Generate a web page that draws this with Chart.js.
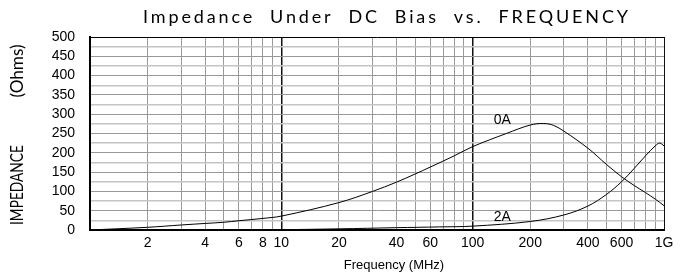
<!DOCTYPE html>
<html>
<head>
<meta charset="utf-8">
<script src="https://cdn.jsdelivr.net/npm/chart.js@4.4.1/dist/chart.umd.min.js"></script>
<style>
  body { margin: 0; background: #fff; }
  canvas { display: block; }
</style>
</head>
<body>
<canvas id="myChart" width="691" height="276"></canvas>
<script>
// values
const freq0A = [1, 2, 3, 4, 5, 6, 8, 10, 20, 30, 40, 50, 60, 80, 100, 150, 200, 235, 265, 300, 400, 500, 600, 700, 800, 900, 1000];
const z0A    = [0, 7, 13, 17, 20, 24, 30, 36, 71, 100, 124, 145, 163, 192, 216, 250, 272, 276, 271, 256, 212, 170, 138, 115, 97, 80, 63];
const freq2A = [1, 10, 20, 40, 67, 100, 200, 300, 400, 500, 600, 700, 800, 900, 950, 1000];
const z2A    = [0, 1, 3, 6, 8, 10, 22, 39, 62, 92, 125, 160, 192, 218, 225, 218];

const xGridValues = [1,2,3,4,5,6,7,8,9,10,20,30,40,50,60,70,80,90,100,200,300,400,500,600,700,800,900,1000];
const xTickLabels = {2:'2', 4:'4', 6:'6', 8:'8', 10:'10', 20:'20', 40:'40', 60:'60', 100:'100', 200:'200', 400:'400', 600:'600', 1000:'1G'};
const curveLabels = [{text: '0A', f: 143, z: 285}, {text: '2A', f: 143, z: 34}];

const titleText = 'Impedance  Under  DC  Bias  vs.  FREQUENCY';
const yTitle1 = 'IMPEDANCE';
const yTitle2 = '(Ohms)';
const xTitle = 'Frequency (MHz)';

function pts(xs, ys) { return xs.map((x, i) => ({x: x, y: ys[i]})); }

const textPlugin = {
  id: 'texts',
  afterDraw(chart) {
    const ctx = chart.ctx;
    const xs = chart.scales.x, ys = chart.scales.y;
    ctx.save();
    ctx.fillStyle = '#000';
    ctx.textBaseline = 'middle';
    ctx.textAlign = 'center';

    // curve labels
    ctx.font = '14px "Liberation Sans", Arial, sans-serif';
    curveLabels.forEach(l => {
      ctx.fillText(l.text, xs.getPixelForValue(l.f), ys.getPixelForValue(l.z));
    });

    // x title
    ctx.font = '13px "Liberation Sans", Arial, sans-serif';
    ctx.fillText(xTitle, 394, 265);

    // main title, thin and wide spaced
    ctx.font = '18px Lato, "DejaVu Sans", sans-serif';
    const w0 = ctx.measureText(titleText).width;
    const sp = (485 - w0) / (titleText.length - 1);
    ctx.letterSpacing = sp + 'px';
    ctx.textAlign = 'left';
    ctx.fillText(titleText, 143, 17);
    ctx.letterSpacing = '0px';

    // y title, rotated and narrow
    ctx.font = '17px Lato, "DejaVu Sans", sans-serif';
    function vtext(t, cy, len) {
      const w = ctx.measureText(t).width;
      ctx.save();
      ctx.translate(18, cy);
      ctx.rotate(-Math.PI / 2);
      ctx.scale(len / w, 1);
      ctx.textAlign = 'center';
      ctx.fillText(t, 0, 0);
      ctx.restore();
    }
    vtext(yTitle1, 185, 80);
    vtext(yTitle2, 71, 53);
    ctx.restore();
  }
};

const ctx = document.getElementById('myChart').getContext('2d');
const myChart = new Chart(ctx, {
  type: 'line',
  data: {
    datasets: [{
      label: '0A',
      data: pts(freq0A, z0A),
      borderColor: '#000',
      borderWidth: 1,
      pointRadius: 0,
      tension: 0.35
    }, {
      label: '2A',
      data: pts(freq2A, z2A),
      borderColor: '#000',
      borderWidth: 1,
      pointRadius: 0,
      tension: 0.35
    }]
  },
  options: {
    responsive: false,
    animation: false,
    layout: { padding: { top: 37, right: 27, left: 0, bottom: 0 } },
    plugins: { legend: { display: false }, tooltip: { enabled: false }, title: { display: false } },
    scales: {
      x: {
        type: 'logarithmic',
        min: 1,
        max: 1000,
        afterBuildTicks: s => { s.ticks = xGridValues.map(v => ({value: v})); },
        afterFit: s => { s.height = 46; },
        ticks: {
          autoSkip: false,
          maxRotation: 0,
          padding: 5,
          color: '#000',
          font: { family: '"Liberation Sans", Arial, sans-serif', size: 14 },
          callback: v => xTickLabels[v] || ''
        },
        grid: {
          drawTicks: false,
          color: c => {
            const v = c.tick.value;
            if (v === 10 || v === 100 || v === 1000) return '#111';
            return '#999';
          },
          lineWidth: c => (c.tick.value === 10 || c.tick.value === 100) ? 1.5 : 1
        },
        border: { color: '#000', width: 2 }
      },
      y: {
        min: 0,
        max: 500,
        afterBuildTicks: s => {
          const t = [];
          for (let v = 0; v <= 500; v += 25) t.push({value: v});
          s.ticks = t;
        },
        afterFit: s => { s.width = 90; },
        ticks: {
          autoSkip: false,
          padding: 15,
          color: '#000',
          font: { family: '"Liberation Sans", Arial, sans-serif', size: 14 },
          callback: v => (v % 50 === 0) ? String(v) : ''
        },
        grid: {
          drawTicks: false,
          color: c => {
            const v = c.tick.value;
            if (v === 500) return '#000';
            return (v % 50 === 0) ? '#999' : '#c4c4c4';
          },
          lineWidth: c => (c.tick.value % 50 === 0) ? 1 : 1.5
        },
        border: { color: '#000', width: 2 }
      }
    }
  },
  plugins: [textPlugin]
});
</script>
</body>
</html>
